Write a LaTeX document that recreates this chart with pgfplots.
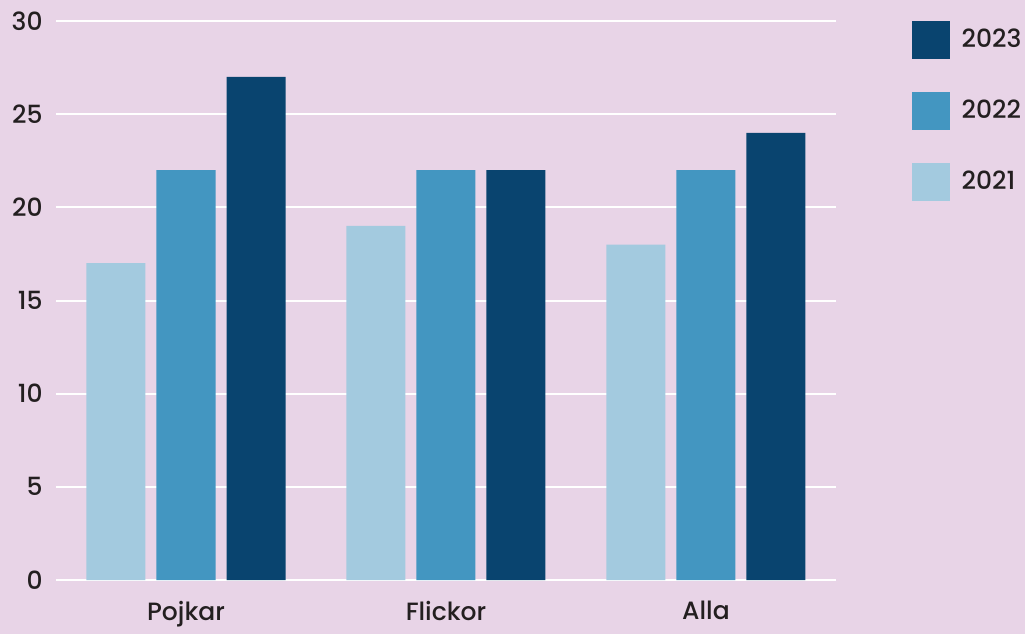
\documentclass[border=0pt]{standalone}
\usepackage{pgfplots}
\pgfplotsset{compat=1.18}
\usepackage{fontspec}
\setmainfont{Poppins}[UprightFont=* Medium]

\definecolor{bgpink}{HTML}{E8D4E7}
\definecolor{c2021}{HTML}{A3CADF}
\definecolor{c2022}{HTML}{4396C1}
\definecolor{c2023}{HTML}{09446F}
\definecolor{txt}{HTML}{231F20}

\begin{document}
\begin{tikzpicture}
\fill[bgpink] (0pt,0pt) rectangle (512.5pt,317pt);
\begin{axis}[
  at={(28pt,27pt)}, anchor=south west,
  scale only axis,
  width=390pt, height=279.5pt,
  xmin=-0.5, xmax=2.5,
  ymin=0, ymax=30,
  ybar=5.5pt, bar width=29.5pt,
  xtick={0,1,2},
  xticklabels={Pojkar,Flickor,Alla},
  ytick={0,5,...,30},
  axis line style={draw=none},
  major tick length=0pt,
  ymajorgrids,
  grid style={white, line width=1pt},
  font=\fontsize{12.5}{15}\selectfont,
  /pgf/number format/assume math mode=true,
  yticklabel style={anchor=east, inner sep=0pt, xshift=-6.5pt, text=txt},
  xticklabel style={anchor=north, inner sep=0pt, yshift=-10.5pt, text=txt},
  legend image code/.code={\fill (0pt,-9.5pt) rectangle (19pt,9.5pt);},
  reverse legend,
  legend style={at={(1.097,1.0)}, anchor=north west, draw=none, fill=none,
    inner sep=0pt, outer sep=0pt, row sep=16.5pt, column sep=6pt,
    nodes={inner sep=0pt, anchor=west, text=txt},
    font=\fontsize{12.5}{15}\selectfont},
  legend cell align=left,
]
\addplot[fill=c2021, draw=none] coordinates {(0,17) (1,19) (2,18)};
\addplot[fill=c2022, draw=none] coordinates {(0,22) (1,22) (2,22)};
\addplot[fill=c2023, draw=none] coordinates {(0,27) (1,22) (2,24)};
\legend{2021,2022,2023}
\end{axis}
\end{tikzpicture}
\end{document}
